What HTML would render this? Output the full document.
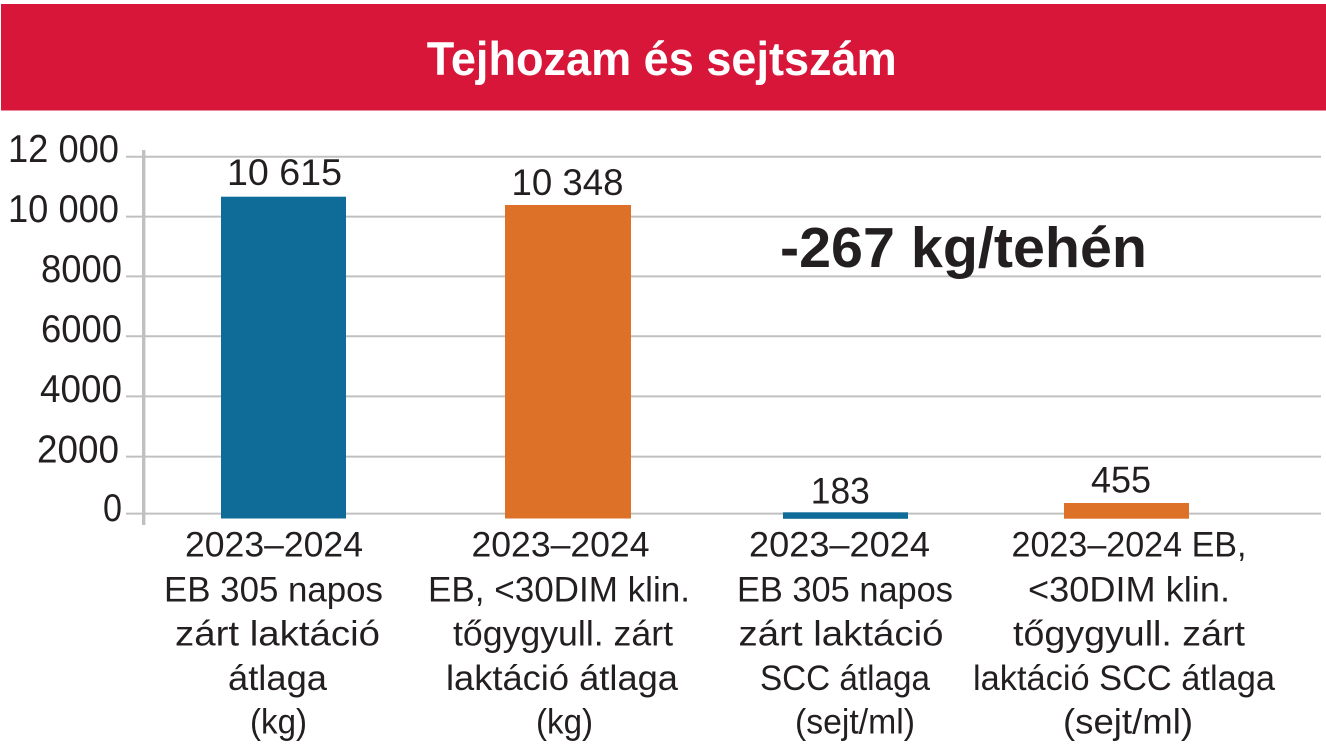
<!DOCTYPE html>
<html>
<head>
<meta charset="utf-8">
<style>
  html, body { margin:0; padding:0; background:#ffffff; }
  svg { display:block; }
  text { font-family: "Liberation Sans", "DejaVu Sans", sans-serif; fill:#231f20; }
</style>
</head>
<body>
<svg width="1326" height="752" viewBox="0 0 1326 752" xmlns="http://www.w3.org/2000/svg">
  <rect x="0" y="0" width="1326" height="752" fill="#ffffff"/>
  <!-- Title banner -->
  <rect x="1" y="4" width="1325" height="106.5" fill="#d7163a"/>
  <text x="661.7" y="75" font-size="47" font-weight="bold" text-anchor="middle" textLength="470" lengthAdjust="spacingAndGlyphs" style="fill:#ffffff">Tejhozam és sejtszám</text>

  <!-- Gridlines -->
  <g stroke="#c0c0c0" stroke-width="2">
    <line x1="126" y1="156.7" x2="1321" y2="156.7"/>
    <line x1="126" y1="216.6" x2="1321" y2="216.6"/>
    <line x1="126" y1="276.4" x2="1321" y2="276.4"/>
    <line x1="126" y1="336.2" x2="1321" y2="336.2"/>
    <line x1="126" y1="396.4" x2="1321" y2="396.4"/>
    <line x1="126" y1="456.6" x2="1321" y2="456.6"/>
    <line x1="126" y1="513.6" x2="1321" y2="513.6"/>
  </g>
  <!-- Vertical axis -->
  <rect x="142" y="150" width="3.4" height="375" fill="#c0c0c0"/>

  <!-- Y tick labels -->
  <g font-size="39" text-anchor="end">
    <text x="119" y="162" textLength="111" lengthAdjust="spacingAndGlyphs">12 000</text>
    <text x="119" y="222" textLength="111" lengthAdjust="spacingAndGlyphs">10 000</text>
    <text x="122" y="282" textLength="81" lengthAdjust="spacingAndGlyphs">8000</text>
    <text x="122" y="342" textLength="81" lengthAdjust="spacingAndGlyphs">6000</text>
    <text x="122" y="402" textLength="82" lengthAdjust="spacingAndGlyphs">4000</text>
    <text x="119" y="462.5" textLength="82" lengthAdjust="spacingAndGlyphs">2000</text>
    <text x="122" y="521" textLength="19" lengthAdjust="spacingAndGlyphs">0</text>
  </g>

  <!-- Bars -->
  <rect x="221" y="196.7" width="125" height="321.8" fill="#0f6c99"/>
  <rect x="505" y="205" width="126" height="313.5" fill="#dd7128"/>
  <rect x="783" y="512.3" width="125" height="6.5" fill="#0f6c99"/>
  <rect x="1064" y="503" width="125" height="15.7" fill="#dd7128"/>

  <!-- Value labels -->
  <g font-size="37" text-anchor="middle">
    <text x="284.5" y="185" textLength="115" lengthAdjust="spacingAndGlyphs">10 615</text>
    <text x="567.5" y="195" textLength="112" lengthAdjust="spacingAndGlyphs">10 348</text>
    <text x="840.3" y="503.3" textLength="59" lengthAdjust="spacingAndGlyphs">183</text>
    <text x="1121" y="492.5" textLength="60" lengthAdjust="spacingAndGlyphs">455</text>
  </g>

  <!-- Annotation -->
  <text x="780" y="267" font-size="57" font-weight="bold" textLength="367" lengthAdjust="spacingAndGlyphs">-267 kg/tehén</text>

  <!-- Category labels -->
  <g font-size="35" text-anchor="middle">
    <!-- 1 -->
    <text x="274" y="556.7" textLength="178" lengthAdjust="spacingAndGlyphs">2023–2024</text>
    <text x="273.5" y="601.5" textLength="219" lengthAdjust="spacingAndGlyphs">EB 305 napos</text>
    <text x="277.5" y="645.5" textLength="205" lengthAdjust="spacingAndGlyphs">zárt laktáció</text>
    <text x="277.5" y="690" textLength="99" lengthAdjust="spacingAndGlyphs">átlaga</text>
    <text x="278.5" y="733.5" textLength="57" lengthAdjust="spacingAndGlyphs">(kg)</text>
    <!-- 2 -->
    <text x="560.5" y="556.7" textLength="178" lengthAdjust="spacingAndGlyphs">2023–2024</text>
    <text x="559" y="601.5" textLength="262" lengthAdjust="spacingAndGlyphs">EB, &lt;30DIM klin.</text>
    <text x="563" y="645.5" textLength="220" lengthAdjust="spacingAndGlyphs">tőgygyull. zárt</text>
    <text x="562" y="690" textLength="232" lengthAdjust="spacingAndGlyphs">laktáció átlaga</text>
    <text x="564.5" y="733.5" textLength="57" lengthAdjust="spacingAndGlyphs">(kg)</text>
    <!-- 3 -->
    <text x="839.5" y="556.7" textLength="181" lengthAdjust="spacingAndGlyphs">2023–2024</text>
    <text x="845" y="601.5" textLength="216" lengthAdjust="spacingAndGlyphs">EB 305 napos</text>
    <text x="841" y="645.5" textLength="205" lengthAdjust="spacingAndGlyphs">zárt laktáció</text>
    <text x="845" y="690" textLength="170" lengthAdjust="spacingAndGlyphs">SCC átlaga</text>
    <text x="855" y="733.5" textLength="120" lengthAdjust="spacingAndGlyphs">(sejt/ml)</text>
    <!-- 4 -->
    <text x="1129" y="556.7" textLength="235" lengthAdjust="spacingAndGlyphs">2023–2024 EB,</text>
    <text x="1129" y="601.5" textLength="202" lengthAdjust="spacingAndGlyphs">&lt;30DIM klin.</text>
    <text x="1129" y="645.5" textLength="232" lengthAdjust="spacingAndGlyphs">tőgygyull. zárt</text>
    <text x="1124" y="690" textLength="302" lengthAdjust="spacingAndGlyphs">laktáció SCC átlaga</text>
    <text x="1128" y="733.5" textLength="130" lengthAdjust="spacingAndGlyphs">(sejt/ml)</text>
  </g>
</svg>
</body>
</html>
